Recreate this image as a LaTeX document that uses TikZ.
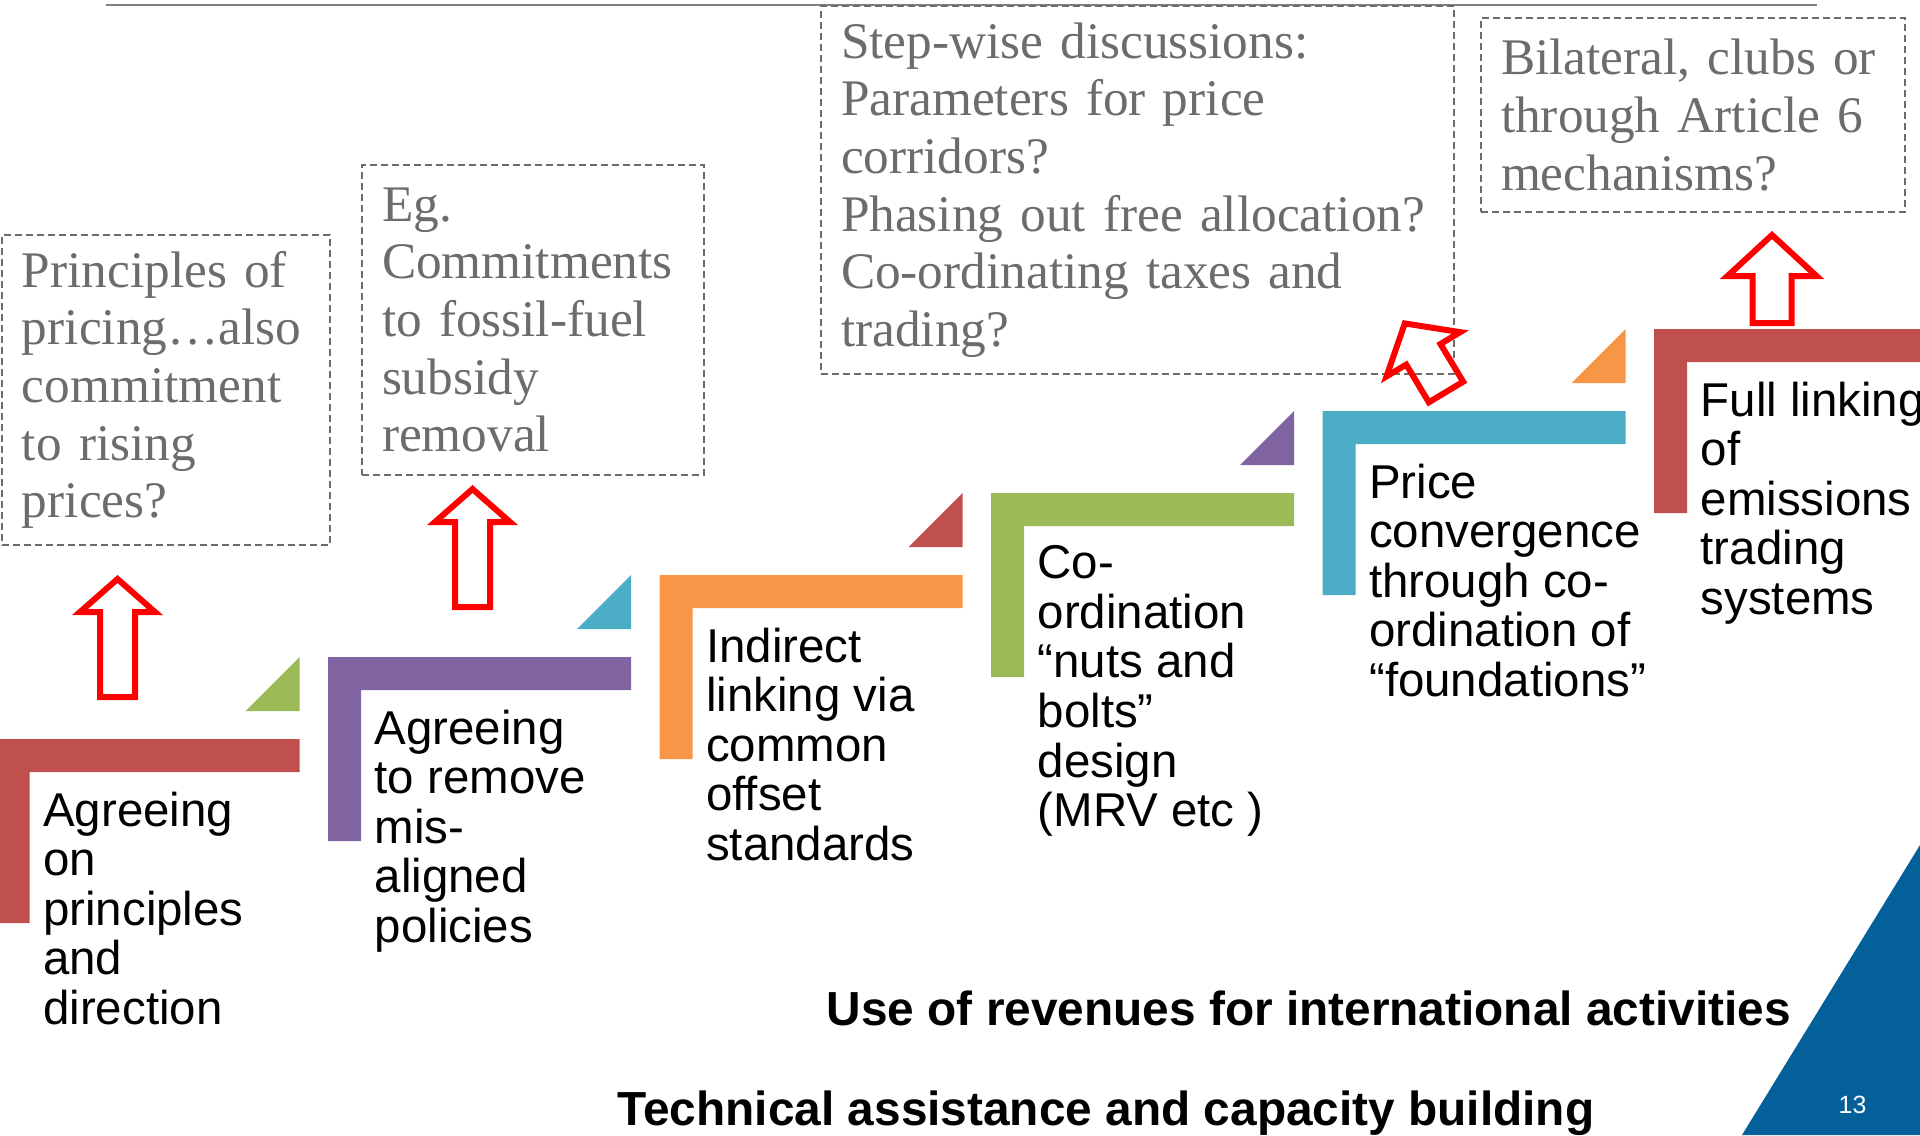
\documentclass[tikz,border=0pt]{standalone}
\usepackage{fontspec}
\setmainfont{Liberation Sans}
\newfontfamily\notefont{Liberation Serif}

\definecolor{stepred}{RGB}{192,80,77}
\definecolor{steppurple}{RGB}{128,100,162}
\definecolor{steporange}{RGB}{247,150,70}
\definecolor{stepgreen}{RGB}{155,187,89}
\definecolor{stepcyan}{RGB}{75,172,198}
\definecolor{notegray}{RGB}{108,108,108}
\definecolor{slideblue}{RGB}{4,96,154}

\tikzset{
  steptext/.style={anchor=north west, inner sep=0pt, align=left,
    font=\fontsize{13.5}{14.1}\selectfont},
  notebox/.style={draw=notegray, line width=0.2mm, dash pattern=on 0.7mm off 0.4mm,
    text=notegray, font=\notefont\fontsize{14.6}{16.4}\selectfont,
    align=left, inner xsep=2mm, anchor=north west},
  bottomtext/.style={anchor=base west, inner sep=0pt, font=\fontsize{13.6}{15}\selectfont\bfseries},
  redarrow/.style={draw=red, line width=0.6mm},
  pics/upblock/.style n args={4}{code={
    \draw[redarrow] ({-#1},0) -- ({-#1},{#3-#4}) -- ({-#2},{#3-#4}) -- (0,{-#4})
      -- ({#2},{#3-#4}) -- ({#1},{#3-#4}) -- ({#1},0) -- cycle;
  }}
}

\begin{document}
\begin{tikzpicture}[x=0.1mm, y=-0.1mm]
  \useasboundingbox (0,0) rectangle (1920,1135);
  \draw[gray, line width=0.2mm] (106,5) -- (1817,5);

  % the six steps
  \foreach \i/\col/\tcol/\txt in {
      0/stepred/stepgreen/{Agreeing\\on\\principles\\and\\direction},
      1/steppurple/stepcyan/{Agreeing\\to remove\\mis-\\aligned\\policies},
      2/steporange/stepred/{Indirect\\linking via\\common\\offset\\standards},
      3/stepgreen/steppurple/{Co-\\ordination\\“nuts and\\bolts”\\design\\(MRV etc )},
      4/stepcyan/steporange/{Price\\convergence\\through co-\\ordination of\\“foundations”},
      5/stepred/none/{Full linking\\of\\emissions\\trading\\systems}} {
    \pgfmathsetmacro\sx{331.5*\i-3.5}
    \pgfmathsetmacro\sy{739-82*\i}
    \fill[\col] (\sx,\sy) -- ++(303,0) -- ++(0,33) -- ++(-270,0) -- ++(0,151) -- ++(-33,0) -- cycle;
    \ifnum\i<5
      \fill[\tcol] ({\sx+303},{\sy-28}) -- ++(0,-54) -- ++(-54,54) -- cycle;
    \fi
    \node[steptext] (s\i) at ({\sx+46},{\sy+52}) {\txt};
  }

  \node[notebox, text width=28.8mm, minimum height=31mm] (q1) at (1,234)
    {Principles of\\pricing…also\\commitment\\to rising\\prices?};
  \node[notebox, text width=30.2mm, minimum height=31mm] (q2) at (361,164)
    {Eg.\\Commitments\\to fossil-fuel\\subsidy\\removal};
  \node[notebox, text width=59.3mm, minimum height=36.8mm] (q3) at (820,5)
    {Step-wise discussions:\\Parameters for price\\corridors?\\Phasing out free allocation?\\Co-ordinating taxes and\\trading?};
  \node[notebox, text width=38.4mm, minimum height=19.4mm] (q4) at (1480,17)
    {Bilateral, clubs or\\through Article 6\\mechanisms?};

  \pic (arrA) at (117.5,697) {upblock={17.5}{37.5}{33}{118}};
  \pic (arrB) at (472.5,607) {upblock={17.5}{37.5}{33}{118}};
  \pic[rotate=31] (arrC) at (1446,392) {upblock={20}{43}{36}{80}};
  \pic (arrD) at (1772,323) {upblock={19.5}{44.5}{41}{88}};

  \node[bottomtext] (rev) at (826,1025.7) {Use of revenues for international activities};
  \node[bottomtext] (tech) at (617,1125) {Technical assistance and capacity building};

  \fill[slideblue] (1742,1135) -- (1920,845) -- (1920,1135) -- cycle;
  \node[text=white, font=\fontsize{7.1}{8}\selectfont] (pg) at (1852.5,1105) {13};
\end{tikzpicture}
\end{document}
